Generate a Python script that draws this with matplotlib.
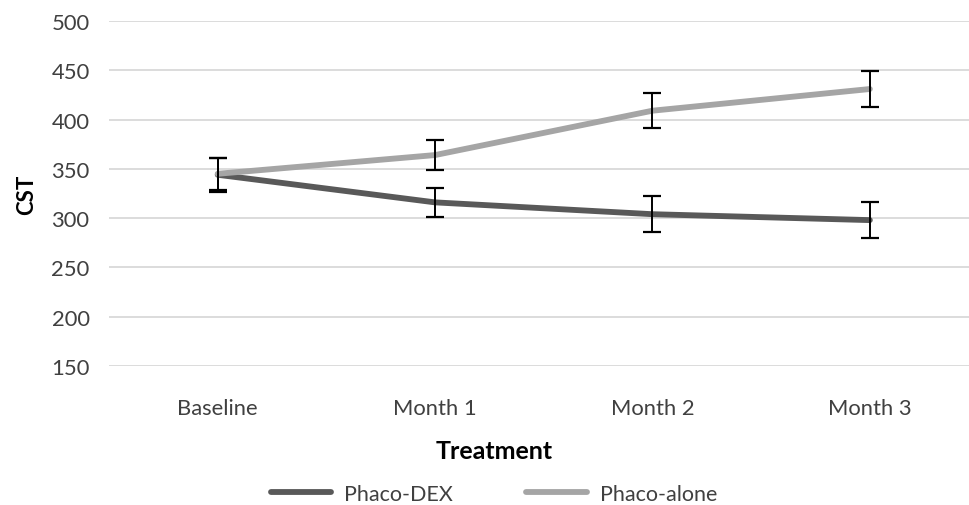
import numpy as np
from matplotlib import pyplot as plt

categories = ["Baseline", "Month 1", "Month 2", "Month 3"]
dex_mean = [344, 316, 304, 298]
dex_err = [17, 15, 18, 18]
alone_mean = [345, 364, 409, 431]
alone_err = [16, 15, 18, 18]
yticks = [150, 200, 250, 300, 350, 400, 450, 500]

plt.rcParams['font.family'] = ['Lato', 'DejaVu Sans']

fig = plt.figure(figsize=(9.7, 5.06), dpi=100)
ax = fig.add_axes([109/970, 1-367/506, 1-109/970, (367-22)/506])

x = np.arange(len(categories))
ax.plot(x, dex_mean, color="#595959", lw=4.2, label="Phaco-DEX", zorder=3, solid_capstyle="round")
ax.plot(x, alone_mean, color="#a5a5a5", lw=4.2, label="Phaco-alone", zorder=3, solid_capstyle="round")
ax.errorbar(x, dex_mean, yerr=dex_err, fmt="none", ecolor="black", elinewidth=1.4, capsize=6.5, capthick=1.6, zorder=4)
ax.errorbar(x, alone_mean, yerr=alone_err, fmt="none", ecolor="black", elinewidth=1.4, capsize=6.5, capthick=1.6, zorder=4)

ax.set_ylim(150, 500)
ax.set_xlim(-0.5, (970-218)/217.3)
ax.set_yticks(yticks)
ax.set_xticks(x)
ax.set_xticklabels(categories)
ax.yaxis.grid(True, color="#d9d9d9", lw=1.3)
ax.set_axisbelow(True)
for s in ax.spines.values():
    s.set_visible(False)
ax.tick_params(axis="both", length=0, labelsize=15.8, colors="#404040")
ax.tick_params(axis="x", pad=23)
ax.tick_params(axis="y", pad=14)

fig.text(27/970, 1-195/506, "CST", rotation=90, fontsize=16, fontweight="bold", ha="center", va="center", color="black")
fig.text(494/970, 1-452/506, "Treatment", fontsize=18, fontweight="bold", ha="center", va="center", color="black")

fig.legend(loc="center", bbox_to_anchor=(494/970, 1-495/506), ncol=2, frameon=False,
           fontsize=15.5, handlelength=2.8, handletextpad=0.6, columnspacing=3.4, labelcolor="#404040")

plt.savefig("out.png", dpi=100)
